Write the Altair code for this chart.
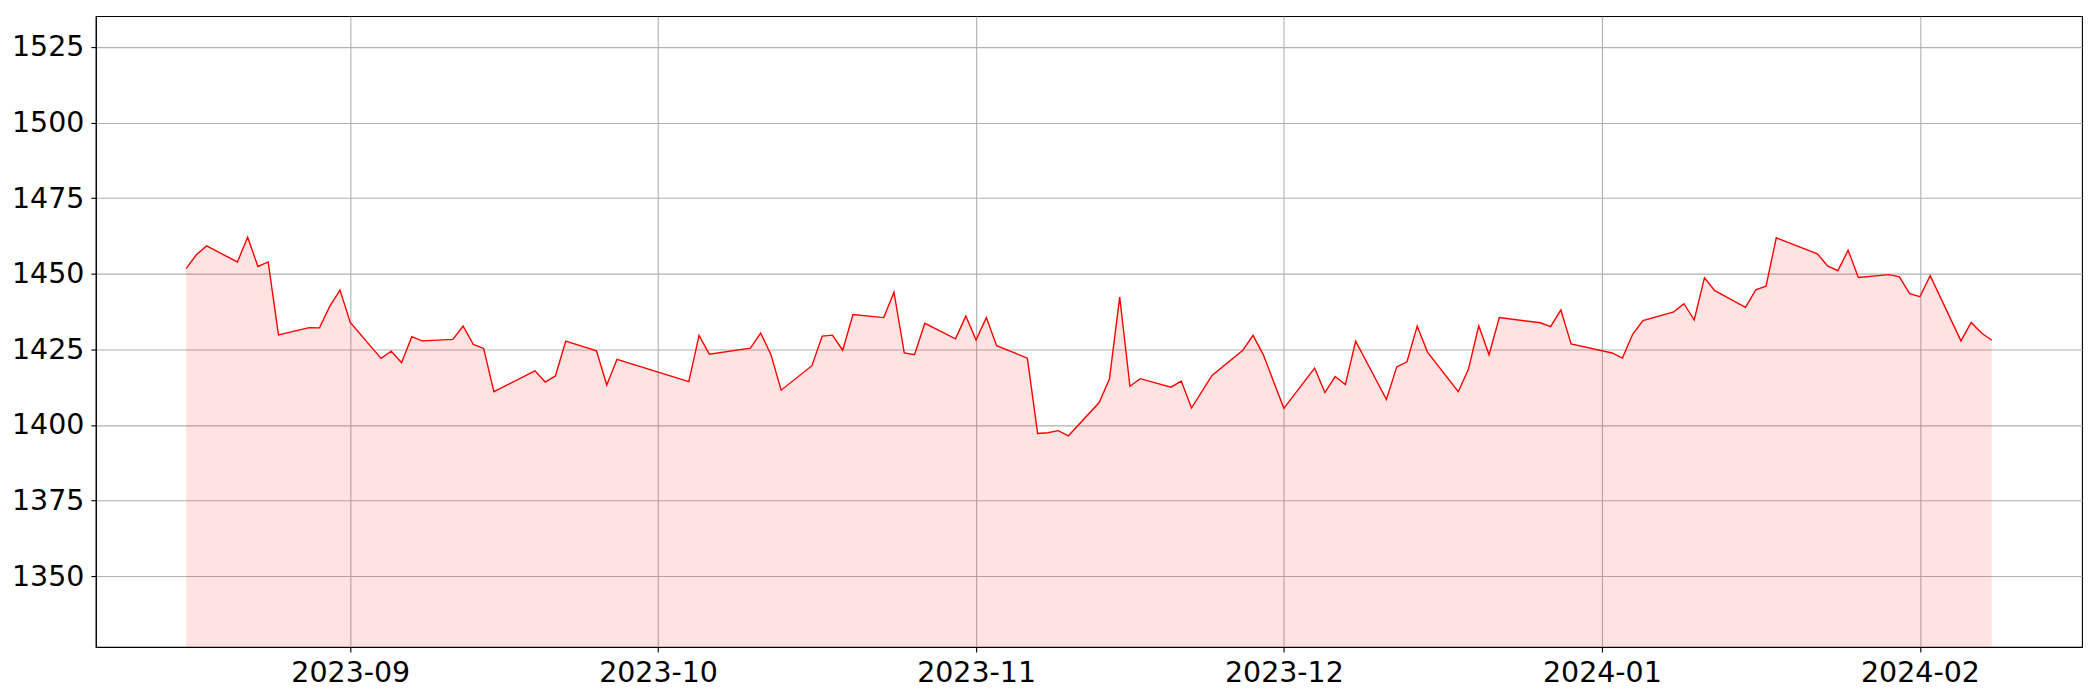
import altair as alt
import pandas as pd

dates = [
    "2023-08-16", "2023-08-17", "2023-08-18", "2023-08-21", "2023-08-22", "2023-08-23", "2023-08-24", "2023-08-25",
    "2023-08-28", "2023-08-29", "2023-08-30", "2023-08-31", "2023-09-01", "2023-09-04", "2023-09-05", "2023-09-06",
    "2023-09-07", "2023-09-08", "2023-09-11", "2023-09-12", "2023-09-13", "2023-09-14", "2023-09-15", "2023-09-19",
    "2023-09-20", "2023-09-21", "2023-09-22", "2023-09-25", "2023-09-26", "2023-09-27", "2023-10-04", "2023-10-05",
    "2023-10-06", "2023-10-10", "2023-10-11", "2023-10-12", "2023-10-13", "2023-10-16", "2023-10-17", "2023-10-18",
    "2023-10-19", "2023-10-20", "2023-10-23", "2023-10-24", "2023-10-25", "2023-10-26", "2023-10-27", "2023-10-30",
    "2023-10-31", "2023-11-01", "2023-11-02", "2023-11-03", "2023-11-06", "2023-11-07", "2023-11-08", "2023-11-09",
    "2023-11-10", "2023-11-13", "2023-11-14", "2023-11-15", "2023-11-16", "2023-11-17", "2023-11-20", "2023-11-21",
    "2023-11-22", "2023-11-24", "2023-11-27", "2023-11-28", "2023-11-29", "2023-12-01", "2023-12-04", "2023-12-05",
    "2023-12-06", "2023-12-07", "2023-12-08", "2023-12-11", "2023-12-12", "2023-12-13", "2023-12-14", "2023-12-15",
    "2023-12-18", "2023-12-19", "2023-12-20", "2023-12-21", "2023-12-22", "2023-12-26", "2023-12-27", "2023-12-28",
    "2023-12-29", "2024-01-02", "2024-01-03", "2024-01-04", "2024-01-05", "2024-01-08", "2024-01-09", "2024-01-10",
    "2024-01-11", "2024-01-12", "2024-01-15", "2024-01-16", "2024-01-17", "2024-01-18", "2024-01-22", "2024-01-23",
    "2024-01-24", "2024-01-25", "2024-01-26", "2024-01-29", "2024-01-30", "2024-01-31", "2024-02-01", "2024-02-02",
    "2024-02-05", "2024-02-06", "2024-02-07", "2024-02-08",
]

values = [
    1451.7, 1456.3, 1459.2, 1453.9, 1462.1, 1452.4, 1453.9, 1429.8,
    1432.2, 1432.1, 1439.2, 1444.6, 1433.9, 1422.0, 1424.4, 1420.6,
    1429.2, 1427.8, 1428.3, 1432.7, 1426.6, 1425.3, 1411.0, 1417.9,
    1414.2, 1416.2, 1427.7, 1424.5, 1413.2, 1421.7, 1414.3, 1429.6,
    1423.4, 1425.4, 1430.4, 1423.3, 1411.5, 1419.6, 1429.4, 1429.7,
    1424.7, 1436.5, 1435.5, 1443.9, 1423.8, 1423.2, 1433.6, 1428.5,
    1436.0, 1428.1, 1435.5, 1426.2, 1422.1, 1397.2, 1397.4, 1398.1,
    1396.4, 1407.4, 1415.2, 1442.3, 1412.8, 1415.3, 1412.5, 1414.5,
    1405.6, 1416.4, 1424.7, 1429.6, 1423.2, 1405.5, 1418.8, 1410.7,
    1416.0, 1413.4, 1427.7, 1408.4, 1419.2, 1420.9, 1432.7, 1424.1,
    1411.0, 1418.5, 1432.8, 1423.2, 1435.5, 1433.8, 1432.5, 1438.0,
    1426.8, 1423.8, 1422.1, 1430.0, 1434.5, 1437.4, 1440.1, 1434.7,
    1448.7, 1444.4, 1438.9, 1444.7, 1445.9, 1461.9, 1456.6, 1452.6,
    1451.0, 1457.8, 1448.8, 1449.7, 1449.0, 1443.4, 1442.4, 1449.4,
    1427.8, 1433.9, 1430.4, 1428.0,
]

y_ticks = [1350, 1375, 1400, 1425, 1450, 1475, 1500, 1525]
x_ticks = ["2023-09-01", "2023-10-01", "2023-11-01", "2023-12-01", "2024-01-01", "2024-02-01"]

df = pd.DataFrame({"date": dates, "value": values})

ymin = min(values) * 0.95
ymax = max(values) * 1.05

t = pd.to_datetime(pd.Series(dates))
span = t.max() - t.min()
xlo = t.min() - 0.05 * span
xhi = t.max() + 0.05 * span
to_ms = lambda ts: int(ts.value // 10**6)
xdom = [to_ms(xlo), to_ms(xhi)]

x_vals = [alt.DateTime(year=int(s[:4]), month=int(s[5:7]), date=1, utc=True) for s in x_ticks]

x_enc = alt.X(
    "date:T",
    scale=alt.Scale(type="utc", domain=xdom, nice=False),
    axis=alt.Axis(values=x_vals, format="%Y-%m", title=None, grid=True, labelPadding=7),
)
y_scale = alt.Scale(domain=[ymin, ymax], zero=False, nice=False)
y_axis = alt.Axis(values=y_ticks, format="d", title=None, grid=True, labelPadding=7)

area = alt.Chart(df).mark_area(color="red", opacity=0.11, clip=True).encode(
    x=x_enc,
    y=alt.Y("value:Q", scale=y_scale, axis=y_axis),
    y2=alt.datum(ymin),
)

line = alt.Chart(df).mark_line(color="red", strokeWidth=1.4, clip=True).encode(
    x=x_enc,
    y=alt.Y("value:Q", scale=y_scale, axis=y_axis),
)

chart = (
    alt.layer(area, line)
    .properties(
        width=1990,
        height=632,
        autosize=alt.AutoSizeParams(type="none"),
        padding={"left": 88, "top": 7.5, "right": 10, "bottom": 50},
    )
    .configure_view(stroke="black", strokeWidth=1.1)
    .configure_axis(
        labelFont="DejaVu Sans",
        labelFontSize=28.5,
        labelColor="black",
        gridColor="#b0b0b0",
        gridWidth=1.1,
        domainColor="black",
        domainWidth=1.1,
        tickColor="black",
        tickWidth=1.1,
        tickSize=5,
    )
)

chart.save("out.html", embed_options={"renderer": "svg", "actions": False})
